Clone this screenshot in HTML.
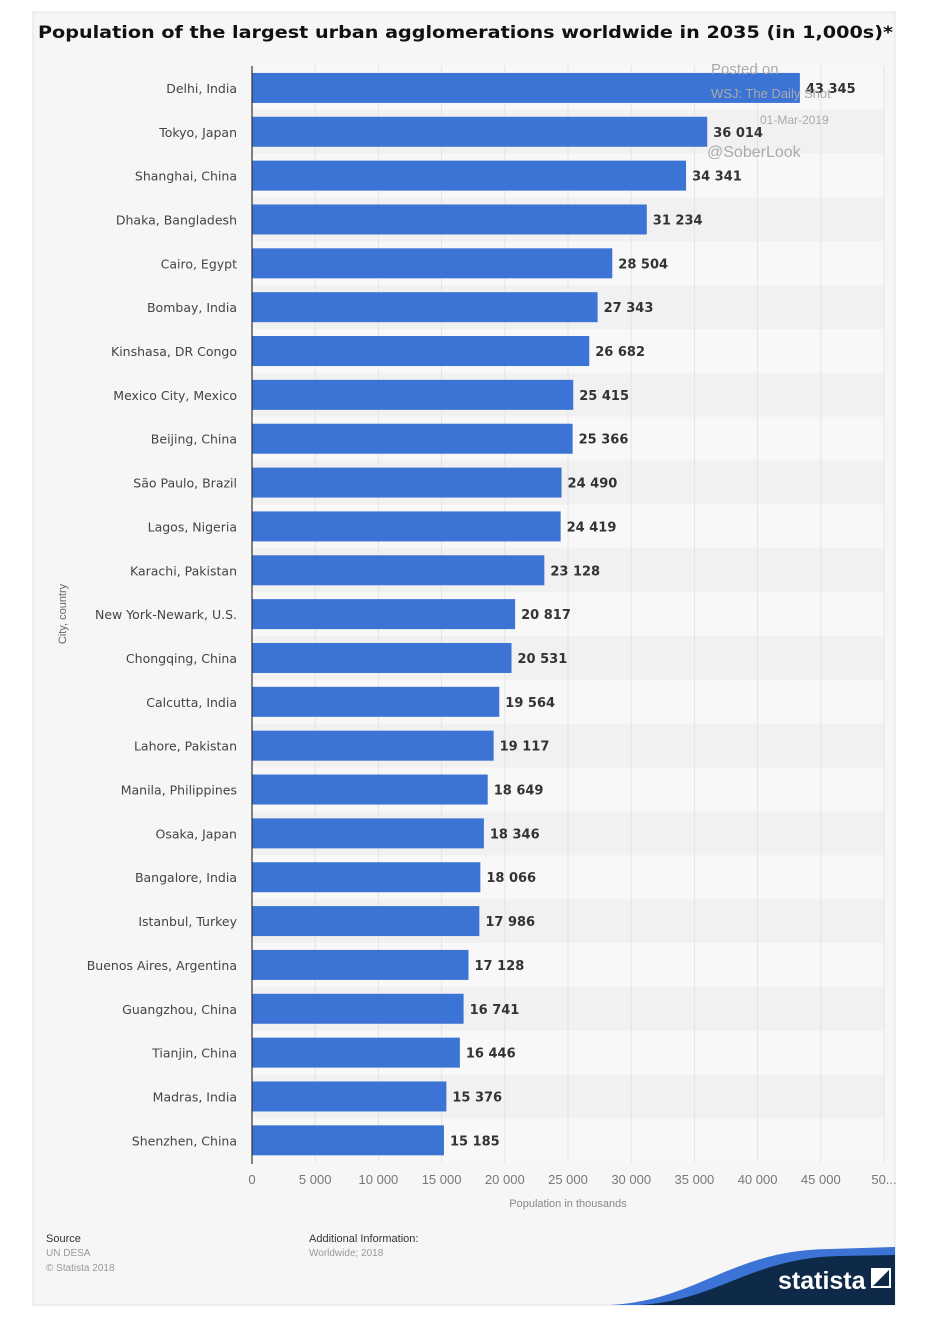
<!DOCTYPE html>
<html><head><meta charset="utf-8"><style>
body{margin:0;background:#fff;font-family:"Liberation Sans",sans-serif}
</style></head><body>
<svg width="940" height="1330" xmlns="http://www.w3.org/2000/svg" style="display:block" id="chart">
<rect x="33" y="12" width="862" height="1293" fill="#f6f6f6" stroke="#e2e2e2"/>
<text x="38" y="38" font-size="17" font-weight="bold" fill="#111" font-family="DejaVu Sans,sans-serif" textLength="855" lengthAdjust="spacingAndGlyphs">Population of the largest urban agglomerations worldwide in 2035 (in 1,000s)*</text>
<g id="stripes"></g><g id="grid"></g><g id="bars"></g>
<line x1="252" y1="66" x2="252" y2="1164" stroke="#333" stroke-width="1.2"/>
<g id="xticks"></g>
<text x="568" y="1207" font-size="11" fill="#888" text-anchor="middle">Population in thousands</text>
<text x="66" y="614" font-size="11" fill="#666" text-anchor="middle" transform="rotate(-90 66 614)">City, country</text>
<g fill="#aaa" font-family="Liberation Sans,sans-serif">
<text x="711" y="74" font-size="15">Posted on</text>
<text x="711" y="98" font-size="13">WSJ: The Daily Shot</text>
<text x="760" y="124" font-size="12">01-Mar-2019</text>
<text x="707" y="157" font-size="16">@SoberLook</text>
</g>
<text x="46" y="1242" font-size="11" fill="#333">Source</text>
<text x="46" y="1256" font-size="10" fill="#999">UN DESA</text>
<text x="46" y="1271" font-size="10" fill="#999">© Statista 2018</text>
<text x="309" y="1242" font-size="11" fill="#333">Additional Information:</text>
<text x="309" y="1256" font-size="10" fill="#999">Worldwide; 2018</text>
<g>
<path d="M610 1305 C700 1300 730 1250 830 1249 L895 1247 L895 1305 Z" fill="#3b74d6"/>
<path d="M640 1305 C720 1300 750 1258 840 1256 L895 1255 L895 1305 Z" fill="#0f2a48"/>
<text x="778" y="1289" font-size="25" font-weight="bold" fill="#fff">statista</text>
<rect x="871" y="1268" width="20" height="20" fill="#fff"/>
<path d="M873 1286 L889 1270 L889 1286 Z" fill="#0f2a48"/>
</g>
</svg>
<script>
const cities=["Delhi, India","Tokyo, Japan","Shanghai, China","Dhaka, Bangladesh","Cairo, Egypt","Bombay, India","Kinshasa, DR Congo","Mexico City, Mexico","Beijing, China","São Paulo, Brazil","Lagos, Nigeria","Karachi, Pakistan","New York-Newark, U.S.","Chongqing, China","Calcutta, India","Lahore, Pakistan","Manila, Philippines","Osaka, Japan","Bangalore, India","Istanbul, Turkey","Buenos Aires, Argentina","Guangzhou, China","Tianjin, China","Madras, India","Shenzhen, China"];
const values=[43345,36014,34341,31234,28504,27343,26682,25415,25366,24490,24419,23128,20817,20531,19564,19117,18649,18346,18066,17986,17128,16741,16446,15376,15185];
const ticks=[0,5000,10000,15000,20000,25000,30000,35000,40000,45000,50000];
const NS="http://www.w3.org/2000/svg";
const x0=252,x1=884,xmax=50000,y0=66,step=43.85;
const X=v=>x0+(x1-x0)*v/xmax;
const Y=i=>y0+step*i;
const fmt=v=>String(v).replace(/\B(?=(\d{3})+(?!\d))/g," ");
function mk(p,t,a){const e=document.createElementNS(NS,t);for(const k in a)e.setAttribute(k,a[k]);p.appendChild(e);return e;}
const st=document.getElementById('stripes'),gr=document.getElementById('grid'),bs=document.getElementById('bars'),xt=document.getElementById('xticks');
cities.forEach((c,i)=>{
 const r=mk(st,'rect',{x:x0,y:Y(i),width:x1-x0,height:step,fill:i%2?'#f1f1f1':'#f8f8f8'});
 
 
});
ticks.forEach((t,i)=>{
 if(i>0){const l=mk(gr,'line',{x1:X(t),x2:X(t),y1:y0,y2:y0+step*cities.length,stroke:'#e4e4e4'});
 
 }
 const tx=mk(xt,'text',{x:X(t),y:1184,'font-size':13,fill:'#777','text-anchor':'middle'});
 tx.textContent=t===50000?'50...':fmt(t);
 
 
});
cities.forEach((c,i)=>{
 const cy=Y(i)+step/2;
 const b=mk(bs,'rect',{x:x0,y:cy-15,width:X(values[i])-x0,height:30,fill:'#3c74d6'});
 
 
 const l=mk(bs,'text',{x:237,y:cy+5,'font-size':12.5,fill:'#444','text-anchor':'end','font-family':'DejaVu Sans,sans-serif'});
 l.textContent=c;
 
 
 const v=mk(bs,'text',{x:X(values[i])+6,y:cy+5,'font-size':13,'font-weight':'bold',fill:'#333','font-family':'DejaVu Sans,sans-serif'});
 v.textContent=fmt(values[i]);
 
 
});
</script>
</body></html>
